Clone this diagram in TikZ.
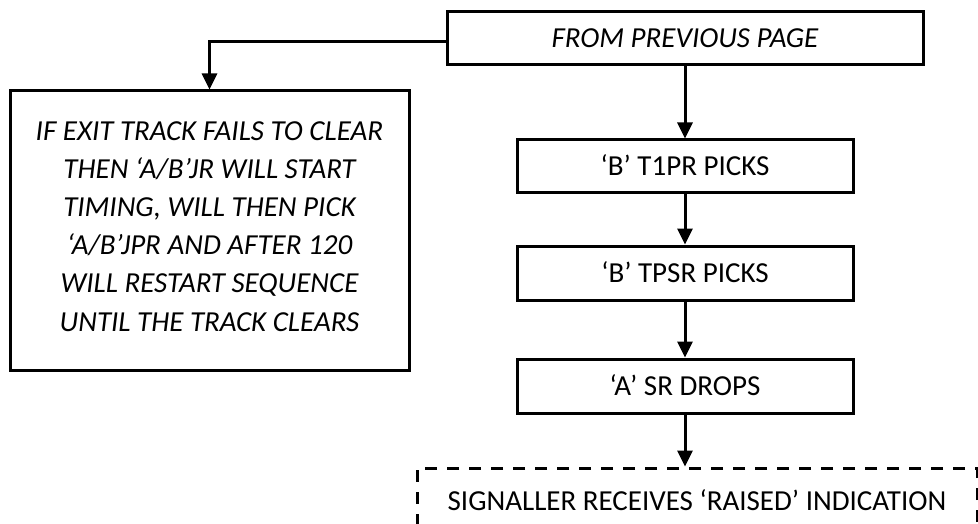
\documentclass[tikz,border=0pt]{standalone}
\usepackage{fontspec}
\setmainfont{Carlito}
\usetikzlibrary{arrows.meta}
\begin{document}
\begin{tikzpicture}[x=1pt,y=-1pt,
  stepbox/.style={draw, line width=3pt, rectangle, inner sep=0pt,
    text height=18.7pt, text depth=0pt,
    font=\fontsize{29}{38.2}\selectfont},
  notebox/.style={draw, line width=3pt, rectangle, inner sep=0pt},
  notetext/.style={inner sep=0pt, align=center,
    font=\fontsize{29}{38.2}\selectfont\itshape},
  flow/.style={line width=3pt, -{Triangle[length=16pt,width=15pt]}}]
\useasboundingbox (0,0) rectangle (978,524);
\clip (0,0) rectangle (978,524);

% main sequence
\node[stepbox, minimum width=476pt, minimum height=53pt,
      font=\fontsize{29}{38.2}\selectfont\itshape] (prev) at (685,38.5) {FROM PREVIOUS PAGE};
\node[stepbox, minimum width=336pt, minimum height=53pt] (t1pr) at (685,166.5) {‘B’ T1PR PICKS};
\node[stepbox, minimum width=336pt, minimum height=54pt] (tpsr) at (685,273) {‘B’ TPSR PICKS};
\node[stepbox, minimum width=336pt, minimum height=54pt] (srdrop) at (685,386) {‘A’ SR DROPS};
\node[stepbox, minimum width=560pt, minimum height=66pt,
      dash pattern=on 12pt off 10pt] (signal) at (697,501) {SIGNALLER RECEIVES ‘RAISED’ INDICATION};

% failure branch: frame and its wording
\node[notebox, minimum width=399pt, minimum height=279pt] (fail) at (209.5,230.5) {};
\node[notetext] (failtext) at (209.5,226.2)
  {IF EXIT TRACK FAILS TO CLEAR\\
   THEN ‘A/B’JR WILL START\\
   TIMING, WILL THEN PICK\\
   ‘A/B’JPR AND AFTER 120\\
   WILL RESTART SEQUENCE\\
   UNTIL THE TRACK CLEARS};

% connectors
\draw[flow] (prev) -- (t1pr);
\draw[flow] (t1pr) -- (tpsr);
\draw[flow] (tpsr) -- (srdrop);
\draw[flow] (srdrop.south) -- (srdrop.south |- signal.north);
\draw[flow] ([yshift=-3pt]prev.west) -| (fail.north);
\end{tikzpicture}
\end{document}
